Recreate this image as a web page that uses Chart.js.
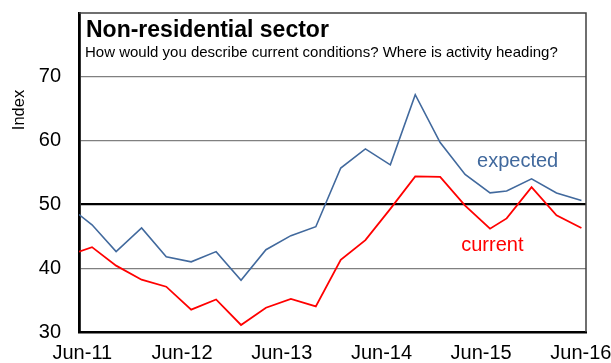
<!DOCTYPE html>
<html>
<head>
<meta charset="utf-8">
<script src="https://cdn.jsdelivr.net/npm/chart.js@4"></script>
<style>
  body { margin: 0; background: #fff; }
  canvas { display: block; }
</style>
</head>
<body>
<canvas id="chart" width="611" height="363"></canvas>
<script>
// survey dates and index readings
const dates = ['2011-05-19', '2011-07-06', '2011-10-03', '2012-01-05', '2012-04-04', '2012-07-04',
  '2012-10-04', '2013-01-04', '2013-04-04', '2013-07-04', '2013-10-04', '2014-01-04', '2014-04-03',
  '2014-07-03', '2014-10-03', '2015-01-03', '2015-04-03', '2015-07-03', '2015-09-03', '2015-12-03',
  '2016-03-03', '2016-06-03'];
const expected = [48.4, 46.8, 42.6, 46.3, 41.8, 41.0, 42.6, 38.1, 42.9, 45.1, 46.5, 55.7, 58.7, 56.2,
  67.2, 59.7, 54.7, 51.8, 52.1, 54.0, 51.8, 50.6];
const current = [42.6, 43.3, 40.4, 38.2, 37.1, 33.5, 35.1, 31.1, 33.8, 35.2, 34.0, 41.3, 44.4, 49.3,
  54.4, 54.3, 49.8, 46.2, 47.8, 52.7, 48.3, 46.3];

const tickDates = ['2011-06-01', '2012-06-01', '2013-06-01', '2014-06-01', '2015-06-01', '2016-06-01'];
const tickLabels = ['Jun-11', 'Jun-12', 'Jun-13', 'Jun-14', 'Jun-15', 'Jun-16'];
const yTicks = [30, 40, 50, 60, 70];

const FONT = '"Liberation Sans", Arial, sans-serif';

// months since Jun-11
function toMonths(d) {
  const p = d.split('-').map(Number);
  return (p[0] - 2011) * 12 + (p[1] - 6) + (p[2] - 1) / 30;
}

const xs = dates.map(toMonths);

const boxPlugin = {
  id: 'box',
  afterDraw(chart) {
    const c = chart.ctx;
    const a = chart.chartArea;
    const x = chart.scales.x, y = chart.scales.y;
    c.save();
    c.strokeStyle = '#404040';
    c.lineWidth = 1.5;
    c.beginPath();
    c.moveTo(a.left, a.top);
    c.lineTo(a.right, a.top);
    c.lineTo(a.right, a.bottom);
    c.stroke();

    c.fillStyle = '#000';
    c.textBaseline = 'alphabetic';
    c.textAlign = 'left';
    c.font = 'bold 23px ' + FONT;
    c.fillText('Non-residential sector', a.left + 7, 37);
    c.font = '15px ' + FONT;
    c.fillText('How would you describe current conditions? Where is activity heading?', a.left + 6, 57);

    c.font = '20px ' + FONT;
    c.textBaseline = 'middle';
    c.fillStyle = '#41699d';
    c.fillText('expected', x.getPixelForValue(47.5), y.getPixelForValue(56.7));
    c.fillStyle = '#ff0000';
    c.fillText('current', x.getPixelForValue(45.6), y.getPixelForValue(43.6));

    c.translate(19, 110);
    c.rotate(-Math.PI / 2);
    c.textAlign = 'center';
    c.fillStyle = '#000';
    c.font = '16.5px ' + FONT;
    c.fillText('Index', 0, 0);
    c.restore();
  }
};

new Chart(document.getElementById('chart'), {
  type: 'line',
  data: {
    datasets: [{
      label: 'expected',
      data: xs.map((v, i) => ({ x: v, y: expected[i] })),
      borderColor: '#41699d',
      borderWidth: 1.6,
      pointRadius: 0,
      tension: 0
    }, {
      label: 'current',
      data: xs.map((v, i) => ({ x: v, y: current[i] })),
      borderColor: '#ff0000',
      borderWidth: 1.8,
      pointRadius: 0,
      tension: 0
    }]
  },
  options: {
    responsive: false,
    animation: false,
    layout: { autoPadding: false, padding: { left: 0, top: 13, right: 25, bottom: 0 } },
    plugins: { legend: { display: false }, tooltip: { enabled: false } },
    scales: {
      x: {
        type: 'linear',
        min: xs[0],
        max: xs[xs.length - 1] + 0.55,
        afterFit(s) { s.height = 31; s.paddingLeft = 0; s.paddingRight = 0; },
        afterBuildTicks(s) { s.ticks = tickDates.map(d => ({ value: toMonths(d) })); },
        grid: { display: false, drawTicks: false },
        border: { display: true, color: '#000', width: 2.5 },
        ticks: {
          autoSkip: false,
          maxRotation: 0,
          padding: 9,
          color: '#000',
          font: { family: FONT, size: 20 },
          callback: (v, i) => tickLabels[i]
        }
      },
      y: {
        min: 30,
        max: 80,
        afterFit(s) { s.width = 79; s.paddingTop = 0; s.paddingBottom = 0; },
        afterBuildTicks(s) { s.ticks = yTicks.map(v => ({ value: v })); },
        grid: {
          drawTicks: false,
          color: ctx => ctx.tick && ctx.tick.value === 50 ? '#000' : '#808080',
          lineWidth: ctx => ctx.tick && ctx.tick.value === 50 ? 2.2 : 1.2
        },
        border: { display: true, color: '#000', width: 2.8 },
        ticks: {
          padding: 18,
          color: '#000',
          font: { family: FONT, size: 20 }
        }
      }
    }
  },
  plugins: [boxPlugin]
});
</script>
</body>
</html>
